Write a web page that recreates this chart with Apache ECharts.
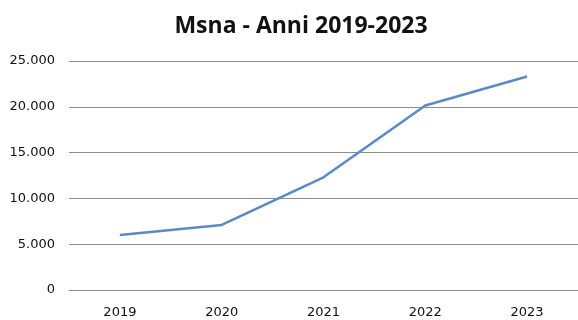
<!DOCTYPE html>
<html><head><meta charset="utf-8">
<script src="https://cdn.jsdelivr.net/npm/echarts@6/dist/echarts.min.js"></script>
<style>html,body{margin:0;padding:0;background:#fff}#c{width:578px;height:320px}</style>
</head><body><div id="c"></div>
<script>
var categories = ['2019', '2020', '2021', '2022', '2023'];
var msnaValues = [6000, 7100, 12300, 20150, 23300];
var yTicks = [0, 5000, 10000, 15000, 20000, 25000];

function fmt(v) {
  return String(v).replace(/\B(?=(\d{3})+(?!\d))/g, '.');
}

var chart = echarts.init(document.getElementById('c'));
chart.setOption({
  animation: false,
  backgroundColor: '#fff',
  title: {
    text: 'Msna - Anni 2019-2023',
    left: 296, top: 10, textAlign: 'center',
    textStyle: { fontFamily: 'Open Sans', fontSize: 23, fontWeight: 'bold', color: '#111' }
  },
  grid: { left: 69, right: 0, top: 61, bottom: 30 },
  xAxis: {
    type: 'category', data: categories, boundaryGap: true,
    axisLine: { show: true, lineStyle: { color: '#8c8c8c', width: 1 } },
    axisTick: { show: false },
    axisLabel: { margin: 16, fontFamily: 'DejaVu Sans', fontSize: 13, color: '#111' }
  },
  yAxis: {
    type: 'value', min: yTicks[0], max: yTicks[yTicks.length - 1], interval: 5000,
    axisLine: { show: false }, axisTick: { show: false },
    splitLine: { lineStyle: { color: '#8c8c8c', width: 1 } },
    axisLabel: { margin: 14, formatter: fmt, fontFamily: 'DejaVu Sans', fontSize: 13, color: '#111' }
  },
  series: [{
    type: 'line', data: msnaValues, showSymbol: false, symbol: 'none',
    lineStyle: { color: '#5a8ac6', width: 2.5 }
  }]
});
</script></body></html>
